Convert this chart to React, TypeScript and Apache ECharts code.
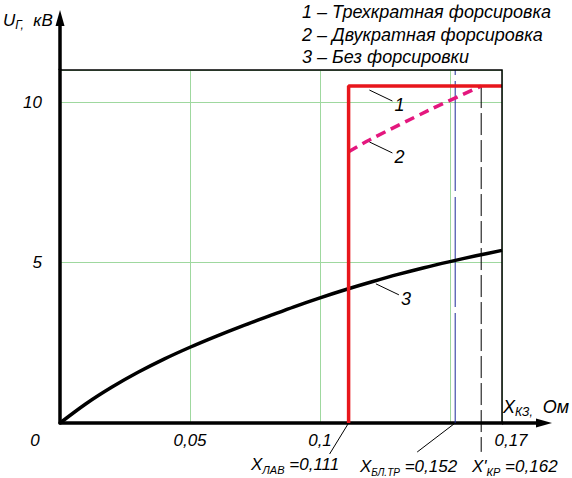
import React, { useEffect, useRef } from 'react';
import * as echarts from 'echarts';

// ---- data ----
const xTickValues = [0.05, 0.1, 0.17];
const yTickValues = [5, 10];
const xMin = 0;
const xMax = 0.17;
const yMin = 0;
const yMax = 11;

// 1 — three-fold forcing
const forcing3X = [0.111, 0.111, 0.17];
const forcing3Y = [0, 10.5, 10.5];
// 2 — two-fold forcing
const forcing2X = [0.111, 0.119, 0.142, 0.162];
const forcing2Y = [8.45, 8.82, 9.75, 10.5];
// 3 — no forcing
const noForcingX = [0, 0.01, 0.02, 0.03, 0.04, 0.05, 0.06, 0.07, 0.08, 0.09, 0.1, 0.11, 0.12, 0.13, 0.14, 0.15, 0.16, 0.17];
const noForcingY = [0, 0.6, 1.12, 1.58, 1.99, 2.36, 2.7, 3.02, 3.32, 3.62, 3.9, 4.16, 4.4, 4.63, 4.84, 5.03, 5.21, 5.38];

const xLav = 0.111;
const xBlTr = 0.152;
const xKr = 0.162;
const uKrTop = 10.5;
const uKrBottom = -0.9;

const legendLines = [
  '1 – Трехкратная форсировка',
  '2 – Двукратная форсировка',
  '3 – Без форсировки',
];

const FONT = "'Liberation Sans', Arial, sans-serif";
const zip = (xs: number[], ys: number[]) => xs.map((x, i) => [x, ys[i]]);
const fmt = (v: number) => String(v).replace('.', ',');

export default function App() {
  const ref = useRef<HTMLDivElement>(null);
  useEffect(() => {
    if (!ref.current) return;
    const chart = echarts.init(ref.current, null, { renderer: 'svg' });
    const option: any = {
      animation: false,
      backgroundColor: '#fff',
      grid: { left: 60, top: 70, width: 442, height: 353, show: false },
      xAxis: {
        type: 'value',
        min: xMin,
        max: xMax,
        interval: 0.05,
        axisLine: { show: true, lineStyle: { color: '#000', width: 3.5 } },
        axisTick: { show: false },
        splitLine: { show: true, lineStyle: { color: '#9fd89f', width: 1 } },
        axisLabel: {
          showMaxLabel: true,
          showMinLabel: true,
          margin: 9,
          color: '#000',
          fontSize: 17,
          fontStyle: 'italic',
          fontFamily: FONT,
          formatter: (v: number) => {
            const r = Math.round(v * 1000) / 1000;
            if (!xTickValues.includes(r)) return '';
            if (r === xMax) return '{r|' + fmt(r) + '}';
            return fmt(r);
          },
          rich: {
            r: { fontSize: 17, fontStyle: 'italic', fontFamily: FONT, color: '#000', padding: [0, 0, 0, 18] },
          },
        },
      },
      yAxis: {
        type: 'value',
        min: yMin,
        max: yMax,
        interval: 5,
        axisLine: { show: true, lineStyle: { color: '#000', width: 3.5 } },
        axisTick: { show: false },
        splitLine: { show: true, lineStyle: { color: '#9fd89f', width: 1 } },
        axisLabel: {
          margin: 18,
          color: '#000',
          fontSize: 17,
          fontStyle: 'italic',
          fontFamily: FONT,
          formatter: (v: number) => (yTickValues.includes(v) ? fmt(v) : ''),
        },
      },
      series: [
        {
          type: 'line',
          data: zip([xBlTr, xBlTr], [yMin, yMax]),
          symbol: 'none',
          lineStyle: { color: '#1f2a9a', width: 1, type: [110, 6] },
          z: 3,
        },
        {
          type: 'line',
          data: zip([xKr, xKr], [uKrTop, uKrBottom]),
          symbol: 'none',
          clip: false,
          lineStyle: { color: '#000', width: 1, type: [22, 5] },
          z: 3,
        },
        {
          type: 'line',
          data: zip(noForcingX, noForcingY),
          symbol: 'none',
          smooth: 0.3,
          lineStyle: { color: '#000', width: 3.5 },
          z: 4,
        },
        {
          type: 'line',
          data: zip(forcing2X, forcing2Y),
          symbol: 'none',
          smooth: 0.3,
          lineStyle: { color: '#e4177e', width: 3.5, type: [10, 6] },
          z: 5,
        },
        {
          type: 'line',
          data: zip(forcing3X, forcing3Y),
          symbol: 'none',
          lineStyle: { color: '#e8161c', width: 3.5 },
          z: 6,
        },
      ],
    };
    chart.setOption(option);

    const px = (x: number, y: number) => chart.convertToPixel({ gridIndex: 0 }, [x, y]) as number[];
    const o = px(xMin, yMin);
    const tr = px(xMax, yMax);
    const textStyle = (size: number) => ({ fontSize: size, fontStyle: 'italic', fontFamily: FONT, fill: '#000' });

    const subRich = (size: number, sub: number) => ({
      m: { fontSize: size, fontStyle: 'italic', fontFamily: FONT, color: '#000', lineHeight: 22 },
      s: { fontSize: sub, fontStyle: 'italic', fontFamily: FONT, color: '#000', lineHeight: 12, verticalAlign: 'bottom' },
    });

    const graphics: any[] = [];
    // box top & right
    graphics.push({
      type: 'polyline',
      shape: { points: [[o[0], tr[1]], [tr[0], tr[1]], [tr[0], o[1]]] },
      style: { stroke: '#000', lineWidth: 1.5, fill: null },
      z: 10,
    });
    // axis extensions and arrows
    graphics.push({ type: 'line', shape: { x1: o[0], y1: tr[1], x2: o[0], y2: 22 }, style: { stroke: '#000', lineWidth: 3.5 }, z: 10 });
    graphics.push({ type: 'polygon', shape: { points: [[o[0], 10], [o[0] - 4.5, 26], [o[0] + 4.5, 26]] }, style: { fill: '#000' }, z: 10 });
    graphics.push({ type: 'line', shape: { x1: tr[0], y1: o[1], x2: 540, y2: o[1] }, style: { stroke: '#000', lineWidth: 3.5 }, z: 10 });
    graphics.push({ type: 'polygon', shape: { points: [[552, o[1]], [536, o[1] - 4.5], [536, o[1] + 4.5]] }, style: { fill: '#000' }, z: 10 });

    // origin label
    graphics.push({ type: 'text', x: o[0] - 25, y: o[1] + 17, style: { text: '0', ...textStyle(17), align: 'center', verticalAlign: 'middle' }, z: 10 });

    // axis titles
    graphics.push({
      type: 'text', x: 3, y: 20,
      style: { text: '{m|U}{s|Г,}{m|  кВ}', rich: subRich(17, 12), align: 'left', verticalAlign: 'middle' },
      z: 10,
    });
    graphics.push({
      type: 'text', x: 503, y: 407,
      style: { text: '{m|X}{s|КЗ,}{m|  Ом}', rich: subRich(18, 12), align: 'left', verticalAlign: 'middle' },
      z: 10,
    });

    // legend
    legendLines.forEach((t, i) => {
      graphics.push({
        type: 'text', x: 302, y: 12 + i * 22.5,
        style: { text: t, ...textStyle(18), align: 'left', verticalAlign: 'middle' },
        z: 10,
      });
    });

    // curve numbers with leaders
    const numberLabels = [
      { t: '1', a: [0.119, 10.5], dy: 4 },
      { t: '2', a: [0.119, 8.82], dy: 2 },
      { t: '3', a: [0.1215, 4.43], dy: 3 },
    ];
    numberLabels.forEach((n) => {
      const p = px(n.a[0], n.a[1]);
      const sx = p[0], sy = p[1] + n.dy;
      const ex = sx + 23, ey = sy + 11;
      graphics.push({ type: 'line', shape: { x1: sx, y1: sy, x2: ex, y2: ey }, style: { stroke: '#000', lineWidth: 1 }, z: 10 });
      graphics.push({ type: 'text', x: ex + 2, y: ey + 4, style: { text: n.t, ...textStyle(18), align: 'left', verticalAlign: 'middle' }, z: 10 });
    });

    // bottom labels
    const pl = px(xLav, 0);
    graphics.push({ type: 'line', shape: { x1: pl[0], y1: pl[1], x2: pl[0] - 19, y2: pl[1] + 31 }, style: { stroke: '#000', lineWidth: 1 }, z: 10 });
    graphics.push({
      type: 'text', x: 251, y: 464,
      style: { text: '{m|X}{s|ЛАВ}{m| =' + fmt(xLav) + '}', rich: subRich(17, 11), align: 'left', verticalAlign: 'middle' },
      z: 10,
    });
    const pb = px(xBlTr, 0);
    graphics.push({ type: 'line', shape: { x1: pb[0], y1: pb[1], x2: pb[0] - 38, y2: pb[1] + 29 }, style: { stroke: '#000', lineWidth: 1 }, z: 10 });
    graphics.push({
      type: 'text', x: 360, y: 466,
      style: { text: '{m|X}{s|БЛ.ТР}{m| =' + fmt(xBlTr) + '}', rich: subRich(17, 10), align: 'left', verticalAlign: 'middle' },
      z: 10,
    });
    graphics.push({
      type: 'text', x: 472, y: 466,
      style: { text: "{m|X'}{s|КР}{m| =" + fmt(xKr) + '}', rich: subRich(17, 11), align: 'left', verticalAlign: 'middle' },
      z: 10,
    });

    chart.setOption({ graphic: graphics });
    return () => chart.dispose();
  }, []);
  return <div ref={ref} style={{ position: 'fixed', left: 0, top: 0, width: 572, height: 478 }} />;
}
